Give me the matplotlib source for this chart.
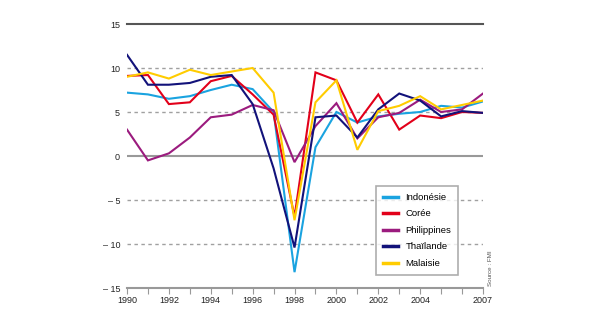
import matplotlib
matplotlib.use("Agg")
import matplotlib.pyplot as plt

years = list(range(1990, 2008))
indonesie = [7.2, 7.0, 6.5, 6.8, 7.5, 8.1, 7.6, 5.0, -13.2, 1.0, 5.0, 3.8, 4.5, 4.8, 5.0, 5.7, 5.5, 6.2]
coree = [9.1, 9.2, 5.9, 6.1, 8.5, 9.1, 7.0, 4.7, -6.9, 9.5, 8.6, 3.8, 7.0, 3.0, 4.6, 4.3, 5.0, 4.9]
philippines = [3.0, -0.5, 0.3, 2.1, 4.4, 4.7, 5.8, 5.2, -0.7, 3.4, 6.0, 2.0, 4.4, 4.9, 6.4, 5.0, 5.3, 7.1]
thailande = [11.5, 8.1, 8.1, 8.3, 9.0, 9.2, 5.9, -1.4, -10.4, 4.4, 4.6, 2.1, 5.3, 7.1, 6.3, 4.5, 5.1, 4.9]
malaisie = [9.0, 9.5, 8.8, 9.8, 9.2, 9.6, 10.0, 7.2, -7.3, 6.1, 8.6, 0.7, 5.1, 5.7, 6.8, 5.3, 5.8, 6.3]

series_names = ["Indonésie", "Corée", "Philippines", "Thaïlande", "Malaisie"]
series_vals = [indonesie, coree, philippines, thailande, malaisie]
colors = ["#1aa3e0", "#e2001a", "#9b1b7e", "#12127a", "#ffcc00"]

xtick_labels = ["1990", "1992", "1994", "1996", "1998", "2000", "2002", "2004", "2007"]
xtick_pos = [1990, 1992, 1994, 1996, 1998, 2000, 2002, 2004, 2007]
ytick_vals = [15, 10, 5, 0, -5, -10, -15]
ytick_labels = ["15", "10", "5", "0", "– 5", "– 10", "– 15"]

plt.rcParams['font.family'] = ['Liberation Sans', 'DejaVu Sans']

fig = plt.figure(figsize=(5.95, 3.21), dpi=100)
ax = fig.add_axes([127/595, 1-288/321, (483-127)/595, (288-24)/321])
ax.set_xlim(1990, 2007)
ax.set_ylim(-15, 15)

# grid lines
for v in [10, 5, -5, -10]:
    ax.axhline(v, color="#a0a0a0", lw=1.0, ls=(0, (2.5, 2.5)), zorder=1)
ax.axhline(15, color="#555555", lw=1.5, zorder=1, clip_on=False)
ax.axhline(0, color="#999999", lw=1.5, zorder=1)

order = [4, 0, 2, 3, 1]
for i in order:
    ax.plot(years, series_vals[i], color=colors[i], lw=1.5, zorder=3 + i, solid_joinstyle='miter')

for s in ["top", "right", "left"]:
    ax.spines[s].set_visible(False)
ax.spines["bottom"].set_color("#999999")
ax.spines["bottom"].set_linewidth(1.5)

ax.set_xticks(years, minor=True)
ax.set_xticks(xtick_pos)
ax.set_xticklabels(xtick_labels, fontsize=6.5, color="#222222")
ax.tick_params(axis="x", which="both", length=4, width=0.8, color="#999999", pad=2)
ax.set_yticks(ytick_vals)
ax.set_yticklabels(ytick_labels, fontsize=6.5, color="#222222")
ax.tick_params(axis="y", length=0, pad=5)

handles = [plt.Line2D([], [], color=colors[i], lw=2.5) for i in range(5)]
leg = ax.legend(handles, series_names, loc="upper left",
                bbox_to_anchor=((371-127)/356, (288-181)/264),
                fontsize=6.8, frameon=True, fancybox=False, handlelength=1.6,
                handletextpad=0.8, labelspacing=0.8, borderpad=0.75)
leg.get_frame().set_edgecolor("#999999")
leg.get_frame().set_linewidth(1.2)
leg.set_zorder(20)

fig.text(490/595, 1-268/321, "Source : FMI", rotation=90, fontsize=4.5,
         color="#555555", ha="center", va="center")

fig.savefig("out.png", dpi=100)
